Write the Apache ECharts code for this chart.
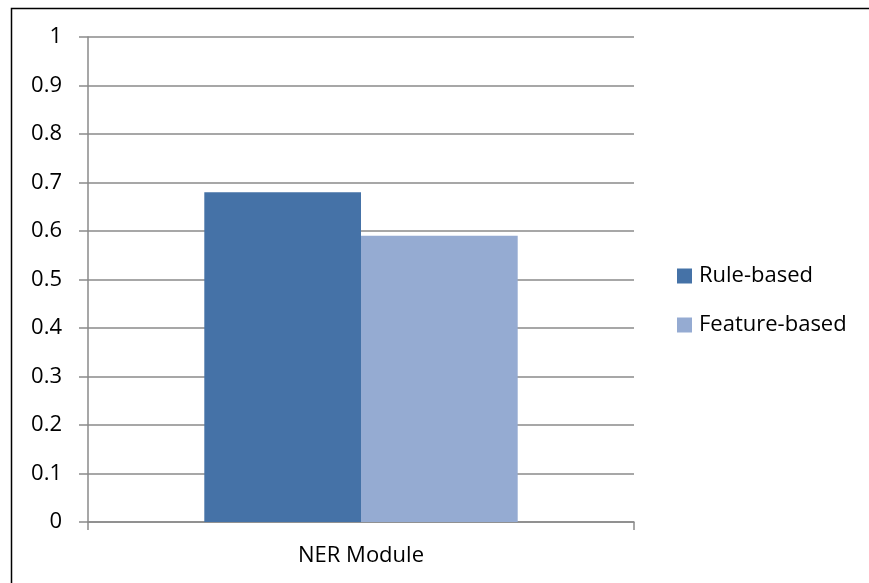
<!DOCTYPE html>
<html>
<head>
<meta charset="utf-8">
<script src="https://cdn.jsdelivr.net/npm/echarts@6/dist/echarts.min.js"></script>
<style>
  html, body { margin: 0; padding: 0; background: #fff; }
  #chart { width: 869px; height: 583px; }
</style>
</head>
<body>
<div id="chart"></div>
<script>
// Categories and series values
const categories = ['NER Module'];
const ruleBased = [0.68];
const featureBased = [0.59];
const yTicks = [0, 0.1, 0.2, 0.3, 0.4, 0.5, 0.6, 0.7, 0.8, 0.9, 1];

const font = '"Open Sans", "Noto Sans", "Liberation Sans", sans-serif';
const fontSize = 22;
const gridColor = '#8a8a8a';

const chart = echarts.init(document.getElementById('chart'), null, { renderer: 'canvas' });
chart.setOption({
  animation: false,
  backgroundColor: '#fff',
  graphic: [{
    type: 'rect',
    shape: { x: 11.5, y: 8.5, width: 900, height: 620 },
    style: { fill: 'none', stroke: '#000', lineWidth: 1.5 },
    silent: true
  }],
  grid: { left: 88, right: 235, top: 37, bottom: 61 },
  legend: {
    orient: 'vertical',
    left: 677,
    top: 265,
    padding: 0,
    itemWidth: 15,
    itemHeight: 15,
    itemGap: 27,
    icon: 'rect',
    textStyle: { fontFamily: font, fontSize: fontSize, color: '#000', padding: [0, 0, 0, 2] },
    data: ['Rule-based', 'Feature-based']
  },
  xAxis: {
    type: 'category',
    data: categories,
    axisLine: { lineStyle: { color: gridColor, width: 1.5 } },
    axisTick: { show: true, length: 8, alignWithLabel: false, lineStyle: { color: gridColor, width: 1.5 } },
    axisLabel: { fontFamily: font, fontSize: fontSize, color: '#000', margin: 23 }
  },
  yAxis: {
    type: 'value',
    min: 0,
    max: 1,
    interval: 0.1,
    axisLine: { show: true, lineStyle: { color: gridColor, width: 1.5 } },
    axisTick: { show: true, length: 9, lineStyle: { color: gridColor, width: 1.5 } },
    splitLine: { lineStyle: { color: gridColor, width: 1.5 } },
    axisLabel: {
      fontFamily: font, fontSize: fontSize, color: '#000', margin: 26,
      formatter: v => {
        const t = yTicks.find(x => Math.abs(x - v) < 1e-9);
        return t === undefined ? '' : String(t);
      }
    }
  },
  series: [
    {
      name: 'Rule-based',
      type: 'bar',
      data: ruleBased,
      barGap: '0%',
      barCategoryGap: '42.6%',
      itemStyle: { color: '#4572a7' }
    },
    {
      name: 'Feature-based',
      type: 'bar',
      data: featureBased,
      itemStyle: { color: '#95abd2' }
    }
  ]
});
</script>
</body>
</html>
